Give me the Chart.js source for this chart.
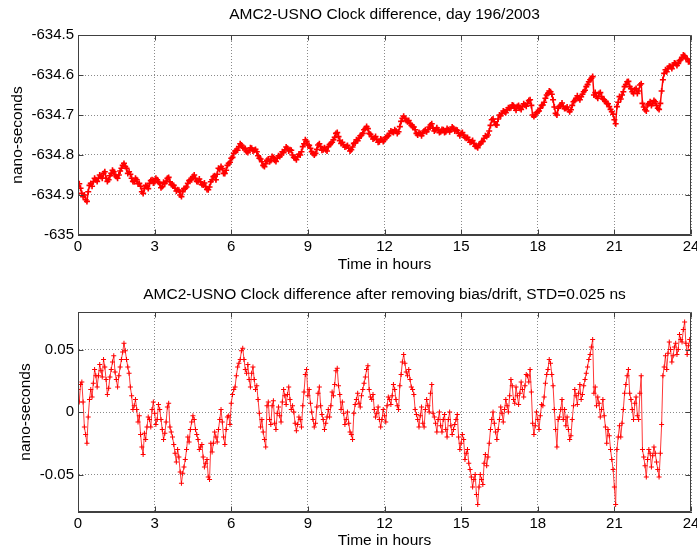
<!DOCTYPE html>
<html>
<head>
<meta charset="utf-8">
<script src="https://cdn.jsdelivr.net/npm/chart.js@4.4.0/dist/chart.umd.min.js"></script>
<style>
  body { margin: 0; background: #fff; overflow: hidden; }
  canvas { position: absolute; left: 0; }
  #topChart { top: 0; }
  #botChart { top: 275px; }
</style>
</head>
<body>
<canvas id="topChart" width="697" height="275"></canvas>
<canvas id="botChart" width="697" height="275"></canvas>
<script>
// samples every 0.05 h (one row = half an hour)
const hourStep = 0.05;
const xTicks = [0, 3, 6, 9, 12, 15, 18, 21, 24];
const topTicks = [-635, -634.9, -634.8, -634.7, -634.6, -634.5];
const botTicks = [-0.05, 0, 0.05];

const clockDiff = [
  -634.879, -634.872, -634.883, -634.896, -634.904, -634.900, -634.912, -634.916, -634.892, -634.876,
  -634.871, -634.878, -634.867, -634.858, -634.862, -634.866, -634.858, -634.850, -634.854, -634.858,
  -634.846, -634.842, -634.858, -634.866, -634.862, -634.852, -634.846, -634.838, -634.842, -634.850,
  -634.854, -634.858, -634.850, -634.840, -634.833, -634.826, -634.821, -634.829, -634.833, -634.846,
  -634.842, -634.848, -634.858, -634.866, -634.867, -634.858, -634.862, -634.872, -634.871, -634.878,
  -634.892, -634.896, -634.883, -634.876, -634.879, -634.884, -634.871, -634.864, -634.862, -634.870,
  -634.867, -634.858, -634.862, -634.868, -634.871, -634.882, -634.879, -634.868, -634.871, -634.866,
  -634.858, -634.856, -634.867, -634.874, -634.875, -634.876, -634.883, -634.890, -634.887, -634.888,
  -634.900, -634.904, -634.892, -634.884, -634.883, -634.880, -634.871, -634.864, -634.862, -634.862,
  -634.854, -634.850, -634.858, -634.866, -634.867, -634.860, -634.867, -634.874, -634.875, -634.870,
  -634.879, -634.886, -634.887, -634.880, -634.867, -634.862, -634.854, -634.852, -634.862, -634.848,
  -634.833, -634.836, -634.829, -634.834, -634.846, -634.846, -634.838, -634.826, -634.821, -634.818,
  -634.808, -634.806, -634.796, -634.790, -634.788, -634.788, -634.779, -634.772, -634.775, -634.782,
  -634.783, -634.784, -634.792, -634.794, -634.788, -634.782, -634.783, -634.790, -634.788, -634.786,
  -634.792, -634.802, -634.808, -634.810, -634.817, -634.826, -634.829, -634.822, -634.813, -634.810,
  -634.817, -634.814, -634.804, -634.806, -634.813, -634.816, -634.808, -634.802, -634.804, -634.800,
  -634.792, -634.794, -634.787, -634.780, -634.783, -634.790, -634.787, -634.788, -634.800, -634.806,
  -634.808, -634.812, -634.804, -634.798, -634.800, -634.792, -634.779, -634.772, -634.762, -634.766,
  -634.775, -634.776, -634.783, -634.792, -634.796, -634.800, -634.796, -634.786, -634.775, -634.772,
  -634.779, -634.788, -634.787, -634.782, -634.787, -634.790, -634.779, -634.774, -634.771, -634.768,
  -634.762, -634.756, -634.746, -634.744, -634.754, -634.764, -634.771, -634.768, -634.775, -634.780,
  -634.779, -634.776, -634.783, -634.790, -634.787, -634.780, -634.771, -634.770, -634.762, -634.764,
  -634.758, -634.752, -634.750, -634.746, -634.737, -634.734, -634.729, -634.734, -634.746, -634.748,
  -634.754, -634.760, -634.758, -634.754, -634.762, -634.768, -634.767, -634.760, -634.762, -634.766,
  -634.762, -634.756, -634.754, -634.752, -634.746, -634.740, -634.742, -634.744, -634.737, -634.740,
  -634.746, -634.742, -634.729, -634.716, -634.708, -634.703, -634.708, -634.714, -634.717, -634.714,
  -634.721, -634.726, -634.729, -634.730, -634.737, -634.746, -634.750, -634.744, -634.746, -634.752,
  -634.746, -634.740, -634.737, -634.742, -634.737, -634.730, -634.725, -634.722, -634.733, -634.740,
  -634.737, -634.732, -634.737, -634.744, -634.742, -634.736, -634.737, -634.744, -634.742, -634.734,
  -634.737, -634.742, -634.737, -634.730, -634.733, -634.740, -634.737, -634.738, -634.746, -634.752,
  -634.746, -634.744, -634.750, -634.756, -634.758, -634.756, -634.762, -634.768, -634.767, -634.764,
  -634.771, -634.778, -634.779, -634.782, -634.775, -634.772, -634.767, -634.766, -634.758, -634.752,
  -634.754, -634.750, -634.740, -634.726, -634.712, -634.710, -634.717, -634.724, -634.725, -634.710,
  -634.700, -634.702, -634.696, -634.690, -634.692, -634.694, -634.687, -634.682, -634.683, -634.682,
  -634.675, -634.676, -634.683, -634.688, -634.679, -634.676, -634.683, -634.686, -634.679, -634.672,
  -634.675, -634.678, -634.671, -634.664, -634.662, -634.676, -634.700, -634.704, -634.700, -634.694,
  -634.692, -634.690, -634.683, -634.676, -634.675, -634.668, -634.658, -634.650, -634.646, -634.640,
  -634.642, -634.648, -634.662, -634.680, -634.696, -634.700, -634.683, -634.678, -634.675, -634.670,
  -634.679, -634.684, -634.683, -634.680, -634.687, -634.692, -634.687, -634.676, -634.667, -634.664,
  -634.658, -634.652, -634.658, -634.662, -634.654, -634.648, -634.642, -634.638, -634.629, -634.624,
  -634.617, -634.612, -634.608, -634.604, -634.650, -634.644, -634.654, -634.658, -634.646, -634.644,
  -634.654, -634.660, -634.662, -634.666, -634.671, -634.672, -634.679, -634.686, -634.692, -634.698,
  -634.712, -634.722, -634.679, -634.668, -634.654, -634.660, -634.650, -634.642, -634.629, -634.624,
  -634.617, -634.616, -634.629, -634.634, -634.642, -634.646, -634.637, -634.634, -634.646, -634.640,
  -634.625, -634.622, -634.671, -634.680, -634.687, -634.690, -634.675, -634.672, -634.667, -634.676,
  -634.671, -634.664, -634.667, -634.676, -634.683, -634.686, -634.671, -634.640, -634.612, -634.596,
  -634.587, -634.592, -634.583, -634.578, -634.579, -634.584, -634.575, -634.570, -634.571, -634.576,
  -634.571, -634.564, -634.562, -634.556, -634.550, -634.552, -634.558, -634.560, -634.567, -634.566,
  -634.571
];

const residual = [
  0.018, 0.008, 0.022, 0.024, 0.008, -0.012, -0.018, -0.025, -0.004, 0.010,
  0.018, 0.012, 0.023, 0.034, 0.029, 0.020, 0.029, 0.038, 0.033, 0.028,
  0.042, 0.036, 0.026, 0.014, 0.019, 0.028, 0.034, 0.040, 0.045, 0.032,
  0.026, 0.020, 0.029, 0.036, 0.042, 0.048, 0.055, 0.049, 0.042, 0.036,
  0.031, 0.020, 0.013, 0.002, 0.005, 0.010, 0.002, -0.008, -0.003, -0.018,
  -0.028, -0.034, -0.017, -0.022, -0.012, -0.004, -0.006, -0.012, 0.002, 0.008,
  -0.001, -0.010, -0.006, 0.006, 0.002, -0.006, -0.014, -0.022, -0.017, -0.008,
  0.004, 0.007, -0.012, -0.016, -0.020, -0.026, -0.033, -0.040, -0.030, -0.036,
  -0.048, -0.057, -0.049, -0.044, -0.038, -0.030, -0.020, -0.024, -0.014, -0.008,
  -0.003, -0.006, -0.014, -0.018, -0.022, -0.030, -0.028, -0.026, -0.036, -0.044,
  -0.041, -0.038, -0.052, -0.054, -0.025, -0.032, -0.025, -0.016, -0.020, -0.024,
  -0.014, -0.006, 0.002, -0.008, -0.020, -0.026, -0.014, -0.004, -0.003, -0.010,
  0.007, 0.014, 0.018, 0.020, 0.029, 0.036, 0.039, 0.042, 0.049, 0.051,
  0.042, 0.034, 0.031, 0.038, 0.026, 0.020, 0.031, 0.036, 0.026, 0.018,
  0.021, 0.010, -0.001, -0.012, -0.006, -0.016, -0.022, -0.028, 0.005, 0.008,
  -0.006, -0.010, 0.005, 0.009, -0.009, -0.014, -0.001, 0.004, -0.003, -0.008,
  0.008, 0.018, 0.013, 0.006, 0.014, 0.020, 0.010, 0.002, 0.005, 0.000,
  -0.009, -0.015, -0.010, -0.004, -0.006, -0.012, 0.005, 0.016, 0.030, 0.034,
  0.013, 0.018, 0.007, 0.000, -0.006, -0.012, -0.009, 0.004, 0.015, 0.020,
  0.005, -0.002, -0.006, -0.014, -0.009, -0.004, 0.002, -0.004, 0.005, 0.016,
  0.013, 0.022, 0.033, 0.035, 0.021, 0.014, 0.002, 0.008, -0.001, -0.010,
  -0.006, 0.000, -0.009, -0.016, -0.018, -0.022, -0.001, 0.006, 0.010, 0.015,
  0.007, 0.004, 0.013, 0.018, 0.023, 0.028, 0.034, 0.037, 0.018, 0.012,
  0.010, 0.014, 0.002, -0.004, -0.001, 0.004, -0.006, -0.012, -0.006, 0.002,
  -0.003, -0.008, 0.005, 0.012, 0.010, 0.006, 0.013, 0.022, 0.018, 0.010,
  0.005, 0.002, 0.021, 0.030, 0.040, 0.046, 0.039, 0.032, 0.029, 0.034,
  0.026, 0.020, 0.018, 0.014, 0.002, -0.002, -0.006, -0.012, -0.003, 0.004,
  -0.009, -0.012, 0.002, 0.010, 0.005, 0.000, 0.015, 0.022, -0.001, -0.004,
  -0.009, -0.016, -0.006, 0.000, -0.011, -0.016, -0.006, -0.002, -0.014, -0.020,
  -0.006, 0.000, -0.011, -0.018, -0.014, -0.010, -0.006, -0.002, -0.020, -0.030,
  -0.025, -0.018, -0.022, -0.038, -0.033, -0.030, -0.041, -0.046, -0.052, -0.060,
  -0.054, -0.050, -0.066, -0.074, -0.060, -0.050, -0.054, -0.058, -0.041, -0.034,
  -0.043, -0.036, -0.025, -0.014, -0.006, 0.000, -0.009, -0.016, -0.022, -0.014,
  -0.006, 0.004, -0.001, -0.008, 0.002, 0.010, 0.005, 0.000, 0.013, 0.026,
  0.021, 0.010, 0.007, 0.020, 0.013, 0.006, 0.015, 0.024, 0.018, 0.012,
  0.021, 0.030, 0.029, 0.024, 0.034, 0.016, -0.009, -0.018, -0.011, 0.000,
  -0.006, -0.014, -0.003, 0.006, 0.005, 0.012, 0.023, 0.030, 0.034, 0.042,
  0.039, 0.030, 0.021, 0.002, -0.014, -0.028, -0.006, -0.004, 0.002, 0.010,
  -0.006, 0.002, -0.011, -0.004, -0.014, -0.022, -0.019, -0.006, 0.005, 0.018,
  0.013, 0.006, 0.015, 0.022, 0.010, 0.014, 0.021, 0.026, 0.031, 0.036,
  0.042, 0.046, 0.052, 0.058, 0.015, 0.020, 0.005, 0.012, 0.007, -0.004,
  0.002, 0.010, -0.003, -0.012, -0.025, -0.014, -0.019, -0.030, -0.038, -0.046,
  -0.060, -0.074, -0.030, -0.020, -0.011, -0.020, -0.009, 0.002, 0.015, 0.022,
  0.029, 0.034, 0.015, 0.010, 0.002, -0.006, 0.007, 0.012, -0.003, -0.006,
  0.015, 0.029, -0.030, -0.036, -0.043, -0.052, -0.038, -0.030, -0.033, -0.044,
  -0.035, -0.028, -0.033, -0.040, -0.046, -0.052, -0.033, -0.010, 0.029, 0.036,
  0.045, 0.034, 0.047, 0.056, 0.050, 0.040, 0.045, 0.052, 0.055, 0.046,
  0.050, 0.062, 0.058, 0.056, 0.066, 0.072, 0.055, 0.046, 0.053, 0.058,
  0.050
];

const hours = clockDiff.map((_, i) => +(i * hourStep).toFixed(2));

Chart.defaults.font.family = '"Liberation Sans", Arial, sans-serif';
Chart.defaults.font.size = 15;
Chart.defaults.color = '#000';

// matlab style box + inward ticks
const boxTicks = {
  id: 'boxTicks',
  afterDraw(chart) {
    const { ctx, chartArea: a, scales: { x, y } } = chart;
    const L = Math.round(a.left) + 0.5, R = Math.round(a.right) - 0.5;
    const T = Math.round(a.top) + 0.5, B = Math.round(a.bottom) - 0.5;
    ctx.save();
    ctx.strokeStyle = '#404040';
    ctx.lineWidth = 1;
    ctx.beginPath();
    ctx.rect(L, T, R - L, B - T);
    x.ticks.forEach(t => {
      const px = Math.round(x.getPixelForValue(t.value)) + 0.5;
      ctx.moveTo(px, B); ctx.lineTo(px, B - 5);
      ctx.moveTo(px, T); ctx.lineTo(px, T + 5);
    });
    y.ticks.forEach(t => {
      const py = Math.round(y.getPixelForValue(t.value)) + 0.5;
      ctx.moveTo(L, py); ctx.lineTo(L + 5, py);
      ctx.moveTo(R, py); ctx.lineTo(R - 5, py);
    });
    ctx.stroke();
    ctx.restore();
  }
};

function makeChart(id, values, yMin, yMax, yTicks, dec, title, cfg) {
  const grid = { color: '#8a8a8a', drawTicks: false };
  const border = { color: '#404040', dash: [1, 2] };
  return new Chart(document.getElementById(id), {
    type: 'line',
    data: {
      datasets: [{
        data: hours.map((h, i) => ({ x: h, y: values[i] })),
        borderColor: cfg.lineColor,
        borderWidth: cfg.lineWidth,
        pointStyle: 'cross',
        pointRadius: cfg.radius,
        pointBorderWidth: cfg.markWidth,
        pointBorderColor: '#ff0000',
        tension: 0
      }]
    },
    options: {
      responsive: false,
      animation: false,
      layout: { padding: { left: 0, right: 6, top: 0, bottom: 0 } },
      plugins: { legend: { display: false }, title: { display: false }, tooltip: { enabled: false } },
      scales: {
        x: {
          type: 'linear', min: 0, max: 24,
          afterBuildTicks: s => { s.ticks = xTicks.map(v => ({ value: v })); },
          ticks: { padding: 3, maxRotation: 0, autoSkip: false },
          grid, border,
          title: { display: true, text: 'Time in hours', font: { size: 15.5 }, padding: { top: 0, bottom: cfg.xTitlePad } },
          afterFit: s => { s.height = cfg.xHeight; s.paddingLeft = 0; s.paddingRight = 0; }
        },
        top: {
          type: 'linear', position: 'top', min: 0, max: 24,
          ticks: { display: false },
          grid: { display: false },
          border: { display: false },
          title: { display: true, text: title, font: { size: 15.5 }, padding: { top: cfg.titlePad, bottom: 0 } },
          afterFit: s => { s.height = cfg.topHeight; s.paddingLeft = 0; s.paddingRight = 0; }
        },
        y: {
          min: yMin, max: yMax,
          afterBuildTicks: s => { s.ticks = yTicks.map(v => ({ value: v })); },
          ticks: { padding: 4, callback: v => String(+v.toFixed(dec)) },
          grid, border,
          title: { display: true, text: 'nano-seconds', font: { size: 15.5 }, padding: { top: cfg.yTitlePad, bottom: 0 } },
          afterFit: s => { s.width = 78; s.paddingTop = 0; s.paddingBottom = 0; }
        }
      }
    },
    plugins: [boxTicks]
  });
}

makeChart('topChart', clockDiff, -635, -634.5, topTicks, 1,
  'AMC2-USNO Clock difference, day 196/2003',
  { radius: 3, markWidth: 1.6, lineWidth: 1.5, lineColor: '#ff0000', xHeight: 40, topHeight: 35, titlePad: 5.7, xTitlePad: 1.2, yTitlePad: 8.7 });

makeChart('botChart', residual, -0.08, 0.08, botTicks, 2,
  'AMC2-USNO Clock difference after removing bias/drift, STD=0.025 ns',
  { radius: 2.5, markWidth: 1, lineWidth: 1, lineColor: '#ff3838', xHeight: 38, topHeight: 37, titlePad: 10.7, xTitlePad: 0, yTitlePad: 16.7 });
</script>
</body>
</html>
